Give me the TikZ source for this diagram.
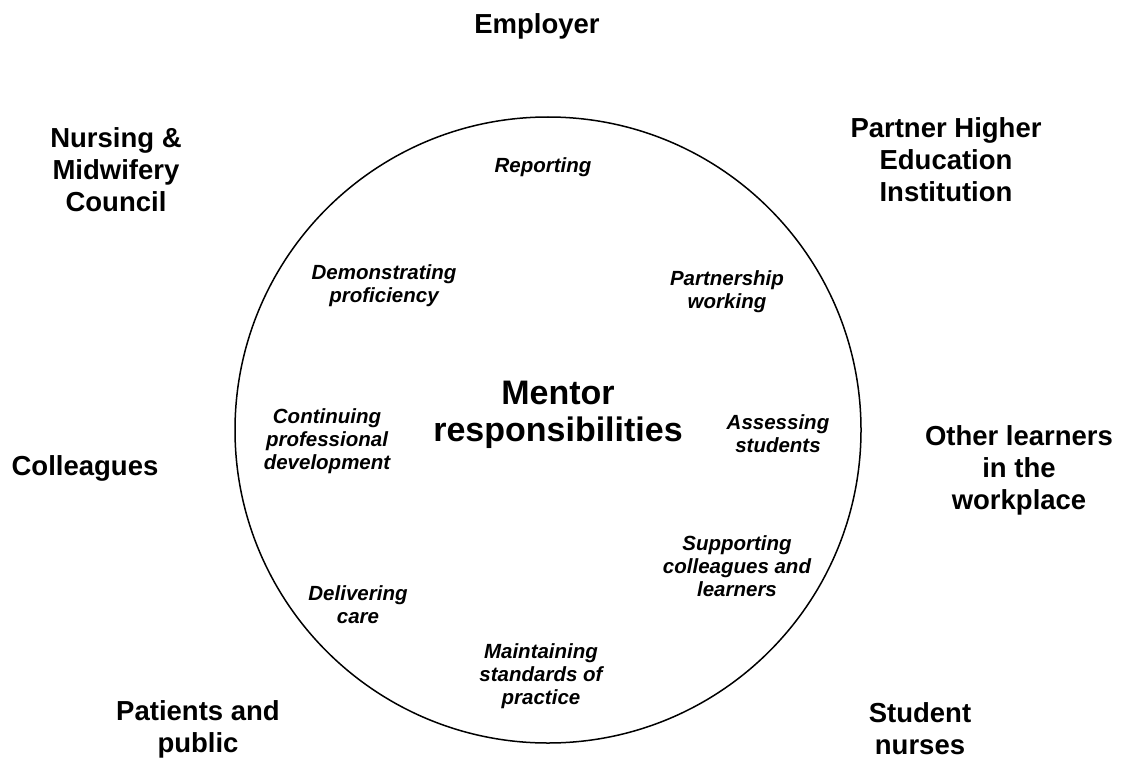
\documentclass[tikz,border=0pt]{standalone}
\usepackage{fontspec}
\setmainfont{Liberation Sans}
\usepackage{tikz}
\usetikzlibrary{positioning}

\begin{document}
\begin{tikzpicture}[
  x=1pt,y=-1pt,
  party/.style={font=\fontsize{27.5}{32}\selectfont\bfseries,align=center,inner sep=0pt},
  duty/.style={font=\fontsize{20.5}{23}\selectfont\bfseries\itshape,align=center,inner sep=0pt},
  hub/.style={font=\fontsize{34}{37}\selectfont\bfseries,align=center,inner sep=0pt},
  ring/.style={draw,line width=1.5pt}
]
  \useasboundingbox (0,0) rectangle (1131,762);
  \draw[ring] (548,430) circle (313);
  % centre and responsibilities inside the ring
  \node[hub] (mentor) at (558,415) {Mentor\\responsibilities};
  \node[duty] (report) at (543,167) {Reporting};
  \node[duty] (demo) at (384,286) {Demonstrating\\proficiency};
  \node[duty] (partner) at (727,292) {Partnership\\working};
  \node[duty] (cpd) at (327,441) {Continuing\\professional\\development};
  \node[duty] (assess) at (778,434) {Assessing\\students};
  \node[duty] (support) at (737,566) {Supporting\\colleagues and\\learners};
  \node[duty] (care) at (358,605) {Delivering\\care};
  \node[duty] (standards) at (541,676) {Maintaining\\standards of\\practice};
  % stakeholders around the ring
  \node[party] (employer) at (537,26) {Employer};
  \node[party] (nmc) at (116,170) {Nursing \&\\Midwifery\\Council};
  \node[party] (hei) at (946,160) {Partner Higher\\Education\\Institution};
  \node[party] (colleagues) at (85,468) {Colleagues};
  \node[party] (learners) at (1019,470) {Other learners\\in the\\workplace};
  \node[party] (patients) at (198,729) {Patients and\\public};
  \node[party] (students) at (920,729) {Student\\nurses};
\end{tikzpicture}
\end{document}
